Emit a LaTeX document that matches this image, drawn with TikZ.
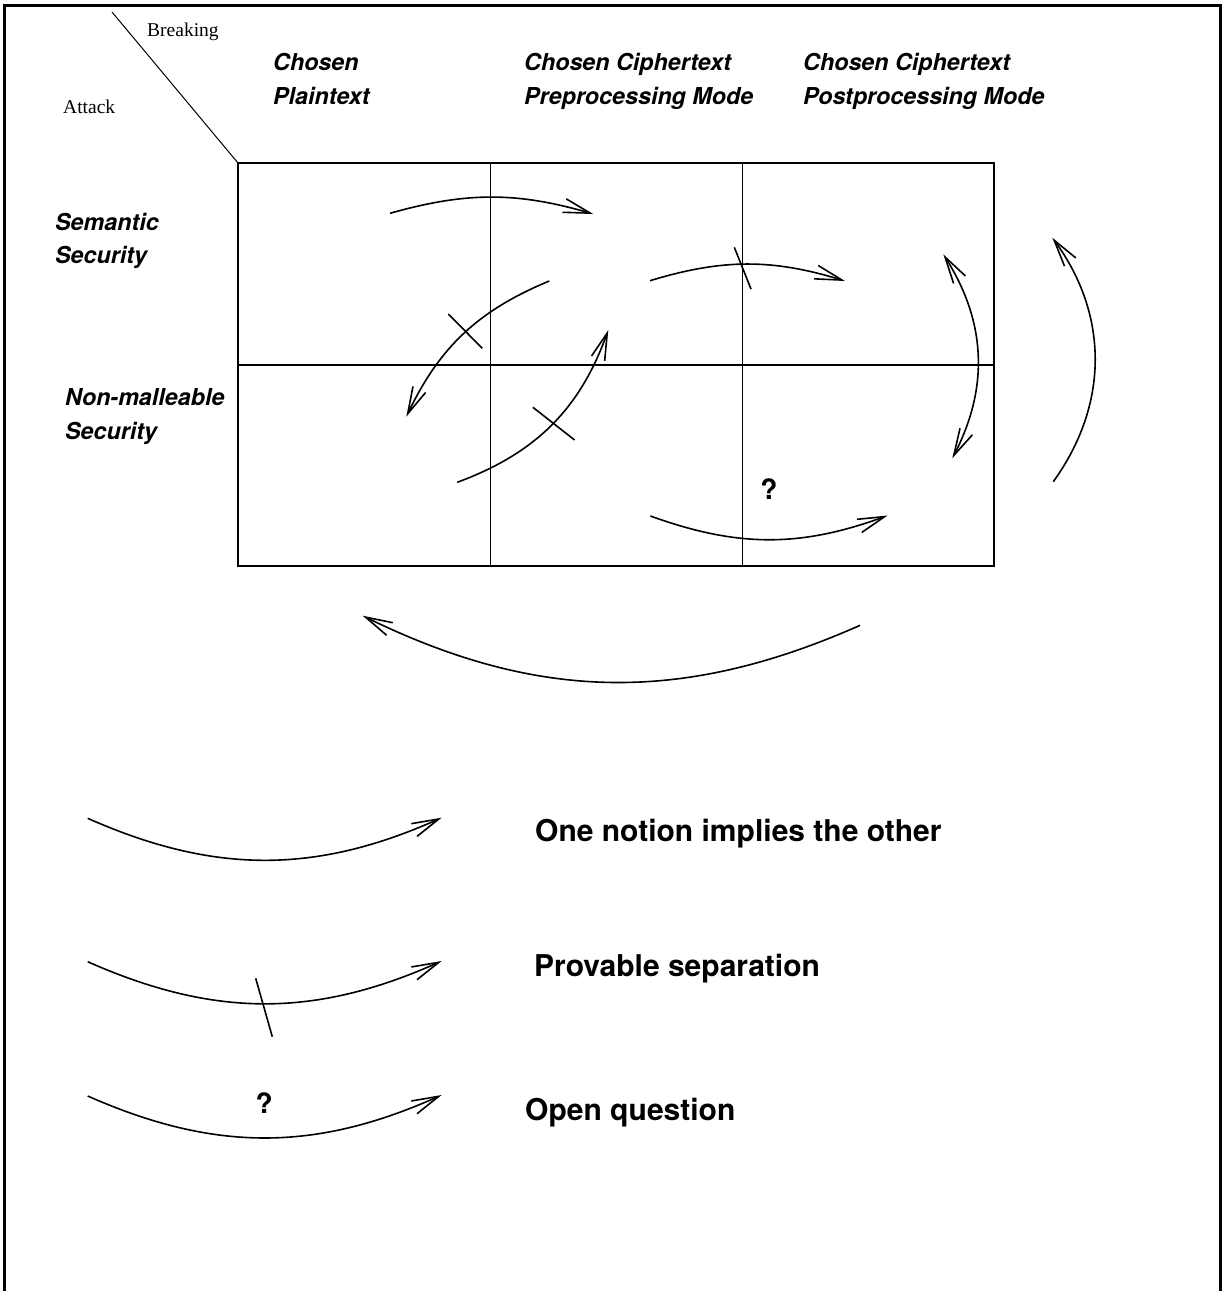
\documentclass[tikz,border=0pt]{standalone}
\usepackage{fontspec}
\setmainfont{Liberation Serif}
\setsansfont{TeX Gyre Heros}
\usetikzlibrary{arrows.meta}
\tikzset{
  lbl/.style={anchor=base west, inner sep=0pt, font=\sffamily\bfseries\itshape\fontsize{23.3}{28}\selectfont},
  lgd/.style={anchor=base west, inner sep=0pt, font=\sffamily\bfseries\fontsize{30}{36}\selectfont},
  axis/.style={anchor=base west, inner sep=0pt, font=\rmfamily\fontsize{19.5}{24}\selectfont},
  qmark/.style={anchor=base, inner sep=0pt, font=\sffamily\bfseries\fontsize{28}{32}\selectfont},
  gridline/.style={line width=1.4pt},
  arc/.style={line width=1.6pt, -{Straight Barb[length=27pt,width=14pt,line width=1.6pt]}},
  dblarc/.style={line width=1.6pt, {Straight Barb[length=27pt,width=14pt,line width=1.6pt]}-{Straight Barb[length=27pt,width=14pt,line width=1.6pt]}},
  sep/.style={line width=1.6pt},
}
\begin{document}
\begin{tikzpicture}[x=1pt,y=1pt]
\useasboundingbox (0,0) rectangle (1225,-1291);
% frame (open at the bottom)
\draw[line width=3pt, line join=miter] (4,-1291) -- (4,-5) -- (1220,-5) -- (1220,-1291);

% corner diagonal
\coordinate (dg1) at (112,-12);
\coordinate (dg2) at (238,-163);
\draw[line width=1pt] (dg1) -- (dg2);
\node[axis] (breaking) at (147,-36.7) {Breaking};
\node[axis] (attack) at (63,-113.3) {Attack};

% column headers
\node[lbl] (cp1) at (273,-70.5) {Chosen};
\node[lbl] (cp2) at (273,-104) {Plaintext};
\node[lbl] (pre1) at (524,-70.5) {Chosen Ciphertext};
\node[lbl] (pre2) at (524,-104) {Preprocessing Mode};
\node[lbl] (post1) at (803,-70.5) {Chosen Ciphertext};
\node[lbl] (post2) at (803,-104) {Postprocessing Mode};

% row headers
\node[lbl] (ss1) at (55,-230.7) {Semantic};
\node[lbl] (ss2) at (55,-263.3) {Security};
\node[lbl] (nm1) at (65,-405) {Non-malleable};
\node[lbl] (nm2) at (65,-439.3) {Security};

% grid
\draw[gridline] (238,-163) rectangle (994,-566);
\draw[gridline] (490.5,-163) -- (490.5,-566);
\draw[gridline] (742.5,-163) -- (742.5,-566);
\draw[gridline] (238,-365) -- (994,-365);

% arrows in the grid
\coordinate (a1s) at (390,-213.3);
\coordinate (a1e) at (593.3,-214);
\draw[arc] (a1s) to[bend left=16] (a1e);

\coordinate (a2s) at (549.3,-281);
\coordinate (a2e) at (406.3,-416.7);
\draw[arc] (a2s) to[bend right=21] (a2e);
\coordinate (m2a) at (448.3,-314);
\coordinate (m2b) at (482.3,-348.3);
\draw[sep] (m2a) -- (m2b);

\coordinate (a3s) at (457.2,-482.3);
\coordinate (a3e) at (608.3,-330);
\draw[arc] (a3s) to[bend right=25] (a3e);
\coordinate (m3a) at (532.9,-407.3);
\coordinate (m3b) at (574.6,-440);
\draw[sep] (m3a) -- (m3b);

\coordinate (b1s) at (650,-280.7);
\coordinate (b1e) at (845,-281);
\draw[arc] (b1s) to[bend left=17] (b1e);
\coordinate (mb1a) at (734.3,-247.3);
\coordinate (mb1b) at (751,-289);
\draw[sep] (mb1a) -- (mb1b);

\coordinate (b2s) at (943.3,-254.3);
\coordinate (b2e) at (952.3,-458.3);
\draw[dblarc] (b2s) to[bend left=30] (b2e);

\coordinate (b3s) at (1053.3,-481.7);
\coordinate (b3e) at (1052.3,-237.7);
\draw[arc] (b3s) to[bend right=36] (b3e);

\coordinate (b4s) at (650.4,-516);
\coordinate (b4e) at (887.7,-515.5);
\draw[arc] (b4s) to[bend right=20] (b4e);
\node[qmark] (q1) at (769,-499.3) {?};

\coordinate (cs) at (860.1,-625.3);
\coordinate (ce) at (362.6,-615.7);
\draw[arc] (cs) to[bend left=25] (ce);

% legend
\coordinate (l1s) at (87.7,-818.3);
\coordinate (l1e) at (441.7,-817.7);
\draw[arc] (l1s) to[bend right=24] (l1e);
\node[lgd] (t1) at (535,-841.7) {One notion implies the other};

\coordinate (l2s) at (87.7,-961.7);
\coordinate (l2e) at (441.7,-961);
\draw[arc] (l2s) to[bend right=24] (l2e);
\coordinate (ml2a) at (255.7,-978.3);
\coordinate (ml2b) at (272.3,-1036.7);
\draw[sep] (ml2a) -- (ml2b);
\node[lgd] (t2) at (534,-976) {Provable separation};

\coordinate (l3s) at (87.7,-1096);
\coordinate (l3e) at (441.7,-1095);
\draw[arc] (l3s) to[bend right=24] (l3e);
\node[qmark] (q2) at (264.3,-1113.3) {?};
\node[lgd] (t3) at (525,-1120) {Open question};
\end{tikzpicture}
\end{document}
